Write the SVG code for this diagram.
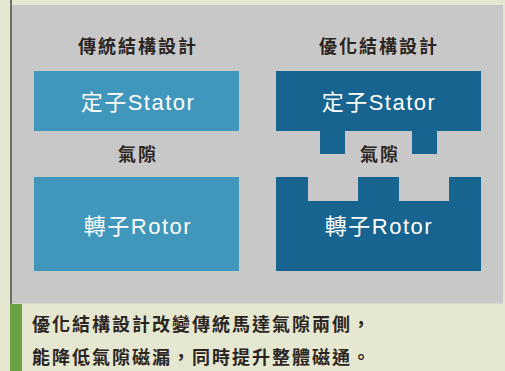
<svg xmlns="http://www.w3.org/2000/svg" width="505" height="371" viewBox="0 0 505 371">
<style>
.hd{font-family:"Liberation Sans","Noto Sans CJK TC",sans-serif;font-weight:bold;font-size:18px;fill:#2b2522;letter-spacing:2px;text-anchor:middle;dominant-baseline:central}
.lb{font-family:"Liberation Sans","Noto Sans CJK TC",sans-serif;font-size:22px;fill:#ffffff;letter-spacing:1.5px;text-anchor:middle;dominant-baseline:central}
.ft{font-family:"Liberation Sans","Noto Sans CJK TC",sans-serif;font-weight:bold;font-size:18px;fill:#2b2522;letter-spacing:2px;dominant-baseline:central}
.trad{fill:#4196bb}
.opt{fill:#16648f}
</style>
<rect x="0" y="0" width="505" height="371" fill="#e5e7d0"/>
<rect x="12" y="5" width="491" height="298.5" fill="#c8c8c8"/>
<rect x="10" y="0" width="2" height="304" fill="#6e6e60"/>
<rect x="10" y="304" width="12" height="67" fill="#6aa442"/>
<g id="title-traditional"><text class="hd" x="138" y="47">傳統結構設計</text></g>
<g id="title-optimized"><text class="hd" x="379" y="47">優化結構設計</text></g>
<g id="stator-traditional">
<rect class="trad" x="34" y="71" width="205" height="60"/>
<text class="lb" x="138" y="102">定子Stator</text>
</g>
<g id="gap-traditional"><text class="hd" x="138" y="155">氣隙</text></g>
<g id="rotor-traditional">
<rect class="trad" x="34" y="177" width="205" height="94"/>
<text class="lb" x="138" y="226">轉子Rotor</text>
</g>
<g id="stator-optimized">
<path class="opt" d="M276 71H481V131H437V154H412V131H345V154H320V131H276Z"/>
<text class="lb" x="379" y="102">定子Stator</text>
</g>
<g id="gap-optimized"><text class="hd" x="380" y="155">氣隙</text></g>
<g id="rotor-optimized">
<path class="opt" d="M276 177H308V201H358V177H399V201H449V177H481V271H276Z"/>
<text class="lb" x="379" y="226">轉子Rotor</text>
</g>
<g id="connectors"></g>
<g id="note">
<text class="ft" x="32" y="325">優化結構設計改變傳統馬達氣隙兩側，</text>
<text class="ft" x="32" y="358">能降低氣隙磁漏，同時提升整體磁通。</text>
</g>
</svg>
